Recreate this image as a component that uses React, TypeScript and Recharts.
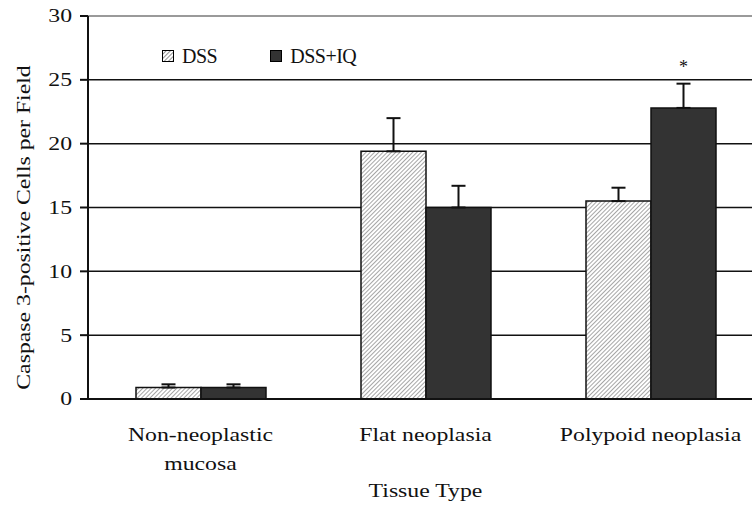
import React from 'react';
import { BarChart, Bar, XAxis, YAxis, CartesianGrid, ErrorBar, Legend, ReferenceLine, LabelList } from 'recharts';

const categories = ['Non-neoplastic mucosa', 'Flat neoplasia', 'Polypoid neoplasia'];
const tickLines = [['Non-neoplastic', 'mucosa'], ['Flat neoplasia'], ['Polypoid neoplasia']];
const dssValues = [0.9, 19.4, 15.5];
const dssErrors = [0.25, 2.6, 1.05];
const iqValues = [0.9, 15.0, 22.8];
const iqErrors = [0.25, 1.7, 1.9];
const significance = ['', '', '*'];
const yTicks = [0, 5, 10, 15, 20, 25, 30];

const data = categories.map((c, i) => ({
  category: c,
  dss: dssValues[i],
  dssErr: [0, dssErrors[i]],
  iq: iqValues[i],
  iqErr: [0, iqErrors[i]],
  sig: significance[i],
}));

const FONT = '"Liberation Serif", "Times New Roman", serif';
const SX = 1.25;

const YTick = (props: any) => {
  const { x, y, payload } = props;
  return (
    <text transform={`translate(${x},${y}) scale(${SX},1)`} textAnchor="end" dy="0.34em"
      fontFamily={FONT} fontSize={19} fill="#111">{payload.value}</text>
  );
};

const XTick = (props: any) => {
  const { x, y, payload } = props;
  const idx = categories.indexOf(payload.value);
  const lines = tickLines[idx] || [payload.value];
  return (
    <g transform={`translate(${x},${y})`}>
      {lines.map((l, i) => (
        <text key={i} x={0} y={42 + 29 * i} transform={`scale(${SX},1)`} textAnchor="middle"
          fontFamily={FONT} fontSize={19} fill="#111">{l}</text>
      ))}
    </g>
  );
};

const YLabel = (props: any) => {
  const vb = props.viewBox || { x: 0, y: 16, width: 88, height: 383 };
  const cx = vb.x + 24;
  const cy = vb.y + vb.height / 2 + 20;
  return (
    <text transform={`translate(${cx},${cy}) rotate(-90) scale(${SX},1)`} textAnchor="middle" dy="0.33em"
      fontFamily={FONT} fontSize={19} fill="#111">Caspase 3-positive Cells per Field</text>
  );
};

const XLabel = (props: any) => {
  const vb = props.viewBox || { x: 88, y: 399, width: 675, height: 107 };
  const cx = vb.x + vb.width / 2;
  const cy = vb.y + 98;
  return (
    <text transform={`translate(${cx},${cy}) scale(${SX},1)`} textAnchor="middle"
      fontFamily={FONT} fontSize={19} fill="#111">Tissue Type</text>
  );
};

const renderLegend = (props: any) => {
  const { payload } = props;
  return (
    <div style={{ display: 'flex', alignItems: 'center', fontFamily: FONT, fontSize: 20, color: '#111' }}>
      {(payload || []).map((entry: any, i: number) => (
        <div key={i} style={{ display: 'flex', alignItems: 'center', marginRight: 53 }}>
          <svg width={12} height={12} style={{ display: 'block' }}>
            <defs>
              <pattern id={`lg-hatch-${i}`} patternUnits="userSpaceOnUse" width={3} height={3} patternTransform="rotate(45)">
                <rect width={3} height={3} fill="#fff" />
                <line x1={0} y1={0} x2={0} y2={3} stroke="#555" strokeWidth={1.3} />
              </pattern>
            </defs>
            <rect x={0.5} y={0.5} width={11} height={11}
              fill={entry.dataKey === 'dss' ? `url(#lg-hatch-${i})` : '#333'} stroke="#000" strokeWidth={1} />
          </svg>
          <span style={{ marginLeft: 8, lineHeight: '20px', letterSpacing: '-0.5px' }}>{entry.value}</span>
        </div>
      ))}
    </div>
  );
};

const AsteriskLabel = (props: any) => {
  const { x, y, width, value } = props;
  if (!value) return null;
  return (
    <text x={x + width / 2} y={y - 35} textAnchor="middle" fontFamily={FONT} fontSize={18} fill="#111">{value}</text>
  );
};

export default function App() {
  return (
    <div style={{ position: 'absolute', left: 0, top: 0, width: 752, height: 506, overflow: 'hidden', background: '#fff' }}>
      <BarChart width={770} height={506} data={data} margin={{ top: 16, right: 7, bottom: 0, left: 0 }}
        barGap={0} barSize={65}>
        <defs>
          <pattern id="hatch" patternUnits="userSpaceOnUse" width={3} height={3} patternTransform="rotate(45)">
            <rect width={3} height={3} fill="#fff" />
            <line x1={0} y1={0} x2={0} y2={3} stroke="#6a6a6a" strokeWidth={1.2} />
          </pattern>
        </defs>
        <CartesianGrid vertical={false} stroke="#111" strokeWidth={1.5} />
        <ReferenceLine y={30} stroke="#9a9a9a" strokeWidth={2} />
        <XAxis dataKey="category" tick={<XTick />} tickLine={false} tickSize={0} tickMargin={0}
          axisLine={{ stroke: '#111', strokeWidth: 2 }} height={107} interval={0}
          label={<XLabel />} />
        <YAxis domain={[0, 30]} ticks={yTicks} tick={<YTick />} tickSize={8} tickMargin={8}
          tickLine={{ stroke: '#111', strokeWidth: 2 }} axisLine={{ stroke: '#111', strokeWidth: 2 }}
          width={88} interval={0} label={<YLabel />} />
        <Legend content={renderLegend} layout="horizontal" verticalAlign="middle" align="center"
          wrapperStyle={{ position: 'absolute', left: 162, top: 46, width: 400, height: 14 }} />
        <Bar dataKey="dss" name="DSS" fill="url(#hatch)" stroke="#111" strokeWidth={1.5} isAnimationActive={false}>
          <ErrorBar dataKey="dssErr" width={7} stroke="#111" strokeWidth={2} direction="y" />
        </Bar>
        <Bar dataKey="iq" name="DSS+IQ" fill="#333333" stroke="#111" strokeWidth={1.5} isAnimationActive={false}>
          <ErrorBar dataKey="iqErr" width={7} stroke="#111" strokeWidth={2} direction="y" />
          <LabelList dataKey="sig" content={<AsteriskLabel />} />
        </Bar>
      </BarChart>
    </div>
  );
}
